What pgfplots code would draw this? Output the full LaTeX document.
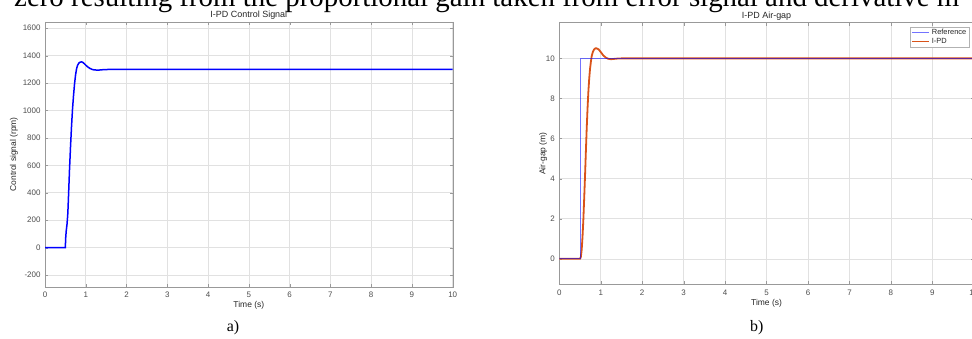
\documentclass[border=0pt]{standalone}
\usepackage{pgfplots}
\pgfplotsset{compat=1.18}
\usepackage{fontspec}
\setmainfont{Liberation Sans}
\newfontfamily\serif{Liberation Serif}
\definecolor{mlorange}{RGB}{217,83,25}
\definecolor{txtgray}{RGB}{77,77,77}
\definecolor{gridc}{RGB}{225,225,225}
\pgfplotsset{
  every axis title shift=0pt,
  common/.style={
    scale only axis,
    anchor=south west,
    axis line style={draw=gray!80},
    tick style={draw=gray!80},
    major tick length=3bp,
    tick align=inside,
    grid=major,
    major grid style={draw=gridc, line width=0.6bp},
    ticklabel style={font=\fontsize{8}{9}\selectfont, text=txtgray},
    /pgf/number format/assume math mode=true,
    /pgf/number format/1000 sep={},
    label style={font=\fontsize{8.5}{9}\selectfont, text=black!85},
    title style={font=\fontsize{9}{10}\selectfont, text=black!85, at={(0.5,1)}, anchor=south, inner sep=2bp},
    xmin=0, xmax=10, xtick={0,1,...,10},
    xticklabel style={yshift=-2bp},
    yticklabel style={xshift=-1bp},
    xlabel style={yshift=3bp},
  }
}
\begin{document}
\begin{tikzpicture}[x=1bp,y=1bp]
\useasboundingbox (0,0) rectangle (972,338);
\clip (0,0) rectangle (972,338);
\node[anchor=base west, font=\serif\fontsize{29}{29}\selectfont, inner sep=0pt] at (14,332) {zero resulting from the proportional gain taken from error signal and derivative m};
\begin{axis}[common,
  at={(45bp,51.3bp)}, width=407.7bp, height=264.7bp,
  ymin=-285, ymax=1645, ytick={-200,0,200,...,1600},
  title={I-PD Control Signal},
  xlabel={Time (s)}, ylabel={Control signal (rpm)},
  ylabel style={yshift=-2bp},
]
\addplot[blue, line width=1.5bp] coordinates {
(0,0) (0.5,0) (0.505,60) (0.52,120) (0.54,170) (0.56,250) (0.58,400) (0.6,560) (0.625,730) (0.65,880) (0.675,1010) (0.7,1110) (0.725,1195) (0.75,1260) (0.775,1305) (0.8,1330) (0.835,1347) (0.87,1353) (0.9,1354) (0.93,1350) (0.96,1342) (1.0,1330) (1.05,1317) (1.1,1307) (1.15,1300) (1.2,1296) (1.3,1294) (1.45,1298) (1.7,1300) (10,1300)
};
\end{axis}
\begin{axis}[common,
  at={(559.3bp,53.7bp)}, width=414.5bp, height=261.6bp,
  ymin=-1.27, ymax=11.78, ytick={0,2,...,10},
  title={I-PD Air-gap},
  xlabel={Time (s)}, ylabel={Air-gap (m)},
  ylabel style={yshift=-8bp},
  reverse legend,
  legend style={at={(1,1)}, anchor=north east, xshift=-4.8bp, yshift=-4bp,
    font=\fontsize{7.5}{8}\selectfont, draw=gray!60, inner sep=0.5bp, row sep=-2bp,
    cells={anchor=west, text=black!85}},
  legend image code/.code={\draw[#1] (0bp,0bp) -- (17bp,0bp);},
]
\addplot[draw=mlorange, color=mlorange, line width=1.8bp] coordinates {
(0,0) (0.5,0) (0.52,0.1) (0.54,0.45) (0.56,1.1) (0.58,1.95) (0.6,3.0) (0.62,4.1) (0.64,5.3) (0.66,6.45) (0.68,7.45) (0.7,8.3) (0.72,8.95) (0.74,9.45) (0.76,9.8) (0.78,10.1) (0.81,10.33) (0.84,10.45) (0.87,10.5) (0.9,10.5) (0.95,10.45) (0.98,10.37) (1.02,10.26) (1.06,10.15) (1.12,10.04) (1.18,9.98) (1.25,9.96) (1.3,9.97) (1.4,9.99) (1.5,10) (10,10)
};
\addlegendentry{I-PD}
\addplot[blue, opacity=0.55, line width=0.9bp] coordinates {
(0,0) (0.5,0) (0.5,10) (10,10)
};
\addlegendentry{Reference}
\node[anchor=south west, inner sep=0pt, font=\fontsize{6.5}{7}\selectfont, text=txtgray] at (rel axis cs:0,1) [yshift=2bp] {$\times$10\textsuperscript{-4}};
\end{axis}
\node[font=\serif\fontsize{16}{16}\selectfont] at (233,10) {a)};
\node[font=\serif\fontsize{16}{16}\selectfont] at (756.7,10) {b)};
\end{tikzpicture}
\end{document}
